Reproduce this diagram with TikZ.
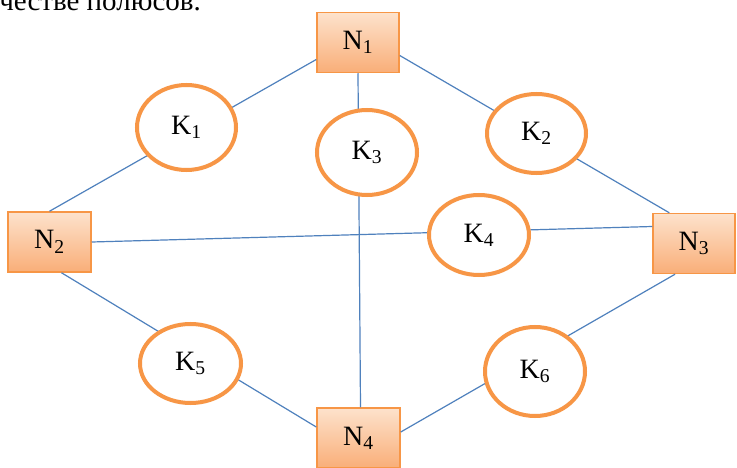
\documentclass[tikz,border=0pt]{standalone}
\usepackage{fontspec}
\setmainfont{Liberation Serif}
\usetikzlibrary{shapes.geometric,calc}
\definecolor{boxedge}{HTML}{F79646}
\definecolor{boxtop}{HTML}{FDE2CC}
\definecolor{boxbot}{HTML}{F9AE78}
\definecolor{ring}{HTML}{F79646}
\definecolor{link}{HTML}{4F81BD}
\tikzset{
  nbox/.style={rectangle, draw=boxedge, line width=1.5pt, top color=boxtop, bottom color=boxbot,
    minimum width=82pt, minimum height=60pt, inner sep=0pt, font=\fontsize{28}{30}\selectfont},
  kring/.style={ellipse, draw=ring, line width=4pt, fill=white, inner sep=0pt,
    font=\fontsize{28}{30}\selectfont},
  conn/.style={draw=link, line width=1.2pt}
}
\begin{document}
\begin{tikzpicture}[x=1pt,y=-1pt]
\useasboundingbox (0,0) rectangle (737,468);
\clip (0,0) rectangle (737,468);
\fill[white] (0,0) rectangle (737,468);
\node[anchor=base east, inner sep=0pt, font=\fontsize{29}{31}\selectfont] (top) at (201,11) {качестве полюсов.};
% boxes
\node[nbox] (N1) at (358,42.5) {N\textsubscript{1}};
\node[nbox, minimum width=83pt] (N2) at (49.5,242) {N\textsubscript{2}};
\node[nbox] (N3) at (694,243.5) {N\textsubscript{3}};
\node[nbox, minimum width=83pt] (N4) at (358.5,438) {N\textsubscript{4}};
% connectors
\coordinate (a1) at ($(N1.west)+(0,17)$);
\coordinate (a2) at ($(N1.east)+(0,13)$);
\coordinate (b3) at ($(N3.north west)+(17,0)$);
\coordinate (b3w) at ($(N3.west)+(0,-17)$);
\coordinate (b3s) at ($(N3.south)+(-19,0)$);
\coordinate (n2s) at ($(N2.south)+(12,0)$);
\coordinate (n4w) at ($(N4.west)+(0,-11)$);
\coordinate (n4e) at ($(N4.east)+(0,-6)$);
\coordinate (n4n) at ($(N4.north)+(2,0)$);
\draw[conn] (a1) -- (N2.north);
\draw[conn] (a2) -- (b3);
\draw[conn] (N2.east) -- (b3w);
\draw[conn] (N1.south) -- (n4n);
\draw[conn] (n2s) -- (n4w);
\draw[conn] (b3s) -- (n4e);
% rings
\node[kring, minimum width=99pt, minimum height=85pt] (K1) at (186.5,127.5) {K\textsubscript{1}};
\node[kring, minimum width=99pt, minimum height=79pt] (K2) at (536.5,133.5) {K\textsubscript{2}};
\node[kring, minimum width=100pt, minimum height=85pt] (K3) at (367,152.5) {K\textsubscript{3}};
\node[kring, minimum width=100pt, minimum height=80pt] (K4) at (479,235) {K\textsubscript{4}};
\node[kring, minimum width=101pt, minimum height=79pt] (K5) at (190.5,363.5) {K\textsubscript{5}};
\node[kring, minimum width=100pt, minimum height=89pt] (K6) at (535,371.5) {K\textsubscript{6}};
\end{tikzpicture}
\end{document}
